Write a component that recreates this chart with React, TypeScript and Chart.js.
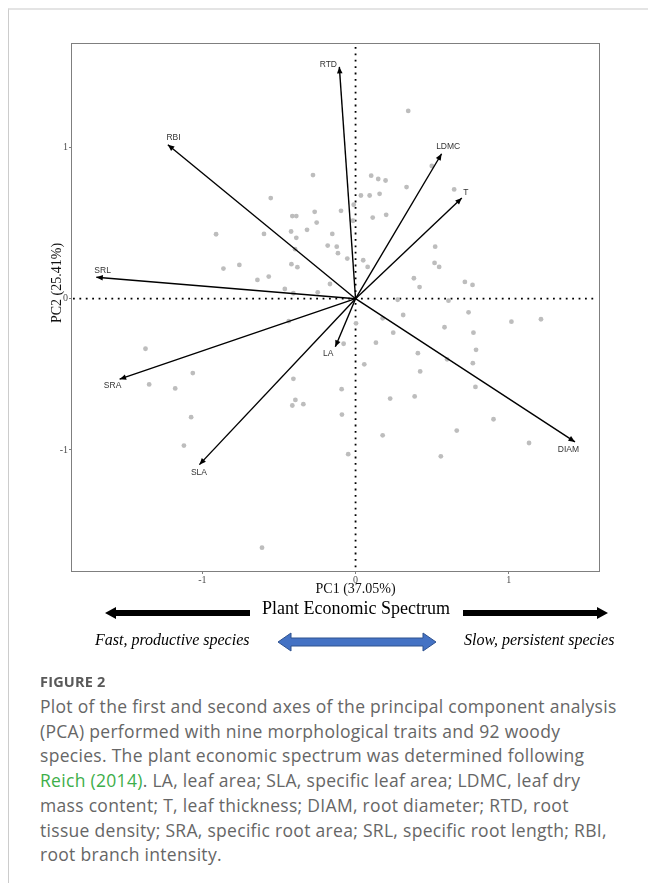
import React, { useEffect, useRef } from "react";
import { Chart, registerables } from "chart.js";

Chart.register(...registerables);

// Species scores (PC1, PC2)
const speciesPC1 = [
  -0.278, -0.554, -0.413, -0.387, -0.267, -0.095, -0.012, -0.017, -0.254, -0.317,
  -0.421, -0.152, -0.387, -0.598, -0.911, -0.182, -0.123, -0.115, -0.395, -0.054,
  -0.863, -0.759, -0.419, -0.38, -0.641, -0.567, -0.167, -0.462, -0.406, -0.247,
  0.344, 0.498, 0.102, 0.148, 0.196, 0.333, 0.644, 0.035, 0.092, 0.157,
  0.112, 0.2, 0.52, 0.05, 0.079, 0.516, 0.546, 0.381, 0.418, 0.714,
  0.764, 0.275, 0.607, 0.738, 0.311, 0.177, 1.018, 1.211, 0.003, 0.581,
  0.246, 0.77, -0.078, 0.133, 0.787, 0.407, 0.598, 0.766, 0.057, 0.422,
  0.783, -0.091, 0.226, 0.386, -0.089, 0.901, 0.661, 0.177, 1.133, -0.048,
  0.557, -0.436, -1.372, -1.063, -1.348, -1.178, -0.406, -0.393, -0.341, -0.413,
  -1.074, -1.121, -0.611,
];
const speciesPC2 = [
  0.817, 0.665, 0.546, 0.546, 0.574, 0.581, 0.621, 0.515, 0.503, 0.455,
  0.444, 0.428, 0.402, 0.428, 0.426, 0.351, 0.344, 0.301, 0.327, 0.265,
  0.199, 0.223, 0.228, 0.208, 0.124, 0.146, 0.097, 0.064, 0.036, 0.042,
  1.241, 0.877, 0.813, 0.791, 0.781, 0.738, 0.722, 0.682, 0.682, 0.693,
  0.536, 0.554, 0.344, 0.254, 0.21, 0.236, 0.21, 0.135, 0.077, 0.111,
  0.091, -0.007, -0.013, -0.09, -0.108, -0.13, -0.152, -0.136, -0.163, -0.189,
  -0.225, -0.225, -0.298, -0.291, -0.338, -0.36, -0.401, -0.426, -0.434, -0.481,
  -0.583, -0.598, -0.66, -0.646, -0.766, -0.797, -0.872, -0.903, -0.954, -1.028,
  -1.042, -0.148, -0.331, -0.492, -0.567, -0.593, -0.53, -0.669, -0.697, -0.706,
  -0.783, -0.971, -1.646,
];

// Trait loadings (arrow tips) and label positions
const traitNames = ["RTD", "RBI", "SRL", "LDMC", "T", "SRA", "SLA", "LA", "DIAM"];
const traitPC1 = [-0.106, -1.226, -1.693, 0.562, 0.694, -1.541, -1.02, -0.132, 1.433];
const traitPC2 = [1.532, 1.018, 0.142, 0.958, 0.665, -0.532, -1.097, -0.318, -0.947];
const labelPC1 = [-0.178, -1.189, -1.652, 0.605, 0.72, -1.587, -1.023, -0.178, 1.39];
const labelPC2 = [1.548, 1.062, 0.185, 1.003, 0.698, -0.578, -1.148, -0.366, -0.995];

const xTicks = [-1, 0, 1];
const yTicks = [-1, 0, 1];
const xTitle = "PC1 (37.05%)";
const yTitle = "PC2 (25.41%)";

const captionLines = [
  "Plot of the first and second axes of the principal component analysis",
  "(PCA) performed with nine morphological traits and 92 woody",
  "species. The plant economic spectrum was determined following",
  "__REICH__. LA, leaf area; SLA, specific leaf area; LDMC, leaf dry",
  "mass content; T, leaf thickness; DIAM, root diameter; RTD, root",
  "tissue density; SRA, specific root area; SRL, specific root length; RBI,",
  "root branch intensity.",
];

const SERIF = "'Liberation Serif', 'Times New Roman', serif";
const SANS = "'Liberation Sans', Arial, sans-serif";

const pcaPlugin = {
  id: "pcaPlugin",
  beforeDatasetsDraw(chart: any) {
    const { ctx, chartArea: a, scales } = chart;
    const x0 = scales.x.getPixelForValue(0);
    const y0 = scales.y.getPixelForValue(0);
    ctx.save();
    ctx.strokeStyle = "#000";
    ctx.lineWidth = 1.8;
    ctx.setLineDash([1.8, 4.6]);
    ctx.beginPath();
    ctx.moveTo(x0, a.top + 4);
    ctx.lineTo(x0, a.bottom);
    ctx.stroke();
    ctx.beginPath();
    ctx.moveTo(a.left + 1, y0);
    ctx.lineTo(a.right - 2, y0);
    ctx.stroke();
    ctx.restore();
  },
  afterDatasetsDraw(chart: any) {
    const { ctx, scales } = chart;
    const x0 = scales.x.getPixelForValue(0);
    const y0 = scales.y.getPixelForValue(0);
    ctx.save();
    ctx.fillStyle = "#000";
    for (let i = 0; i < traitNames.length; i++) {
      const tx = scales.x.getPixelForValue(traitPC1[i]);
      const ty = scales.y.getPixelForValue(traitPC2[i]);
      const ang = Math.atan2(ty - y0, tx - x0);
      const len = 6.5;
      const hw = 2.8;
      const bx = tx - len * Math.cos(ang);
      const by = ty - len * Math.sin(ang);
      ctx.beginPath();
      ctx.moveTo(tx, ty);
      ctx.lineTo(bx + hw * Math.sin(ang), by - hw * Math.cos(ang));
      ctx.lineTo(bx - hw * Math.sin(ang), by + hw * Math.cos(ang));
      ctx.closePath();
      ctx.fill();
    }
    ctx.fillStyle = "#333";
    ctx.font = `8.5px ${SANS}`;
    ctx.textAlign = "center";
    ctx.textBaseline = "middle";
    for (let i = 0; i < traitNames.length; i++) {
      ctx.fillText(
        traitNames[i],
        scales.x.getPixelForValue(labelPC1[i]),
        scales.y.getPixelForValue(labelPC2[i])
      );
    }
    ctx.restore();
  },
  afterDraw(chart: any) {
    const { ctx, chartArea: a, scales } = chart;
    ctx.save();
    ctx.strokeStyle = "#7f7f7f";
    ctx.lineWidth = 1;
    const l = Math.round(a.left) - 0.5;
    const t = Math.round(a.top) + 0.5;
    const r = Math.round(a.right) + 0.5;
    const b = Math.round(a.bottom) + 0.5;
    ctx.strokeRect(l, t, r - l, b - t);
    ctx.fillStyle = "#111";
    ctx.font = `14px ${SERIF}`;
    ctx.textAlign = "center";
    ctx.textBaseline = "middle";
    ctx.fillText(xTitle, scales.x.getPixelForValue(0), 589);
    ctx.translate(57, 283);
    ctx.rotate(-Math.PI / 2);
    ctx.fillText(yTitle, 0, 0);
    ctx.restore();
  },
};

function PcaChart() {
  const ref = useRef<HTMLCanvasElement>(null);
  useEffect(() => {
    if (!ref.current) return;
    const points = speciesPC1.map((v, i) => ({ x: v, y: speciesPC2[i] }));
    const arrowSets = traitNames.map((n, i) => ({
      label: n,
      type: "line" as const,
      data: [
        { x: 0, y: 0 },
        { x: traitPC1[i], y: traitPC2[i] },
      ],
      borderColor: "#000",
      borderWidth: 1.4,
      pointRadius: 0,
      showLine: true,
      fill: false,
      order: 1,
    }));
    const tickFont = { family: SERIF, size: 10 };
    const chart = new Chart(ref.current, {
      type: "scatter",
      data: {
        datasets: [
          ...arrowSets,
          {
            label: "species",
            data: points,
            backgroundColor: "#bdbdbd",
            borderWidth: 0,
            pointRadius: 2.4,
            order: 10,
          } as any,
        ],
      },
      plugins: [pcaPlugin],
      options: {
        animation: false,
        responsive: false,
        devicePixelRatio: 1,
        layout: { padding: { left: 56, top: 43, right: 49, bottom: 13 } },
        plugins: { legend: { display: false }, tooltip: { enabled: false } },
        events: [],
        scales: {
          x: {
            type: "linear",
            min: -1.852,
            max: 1.59,
            afterBuildTicks: (s: any) => {
              s.ticks = xTicks.map((v) => ({ value: v }));
            },
            afterFit: (s: any) => {
              s.height = 16;
            },
            grid: { drawOnChartArea: false, drawTicks: true, tickLength: 3, color: "#7f7f7f" },
            border: { display: false },
            ticks: { font: tickFont, color: "#4d4d4d", padding: 0, maxRotation: 0 },
          },
          y: {
            type: "linear",
            min: -1.8,
            max: 1.69,
            afterBuildTicks: (s: any) => {
              s.ticks = yTicks.map((v) => ({ value: v }));
            },
            afterFit: (s: any) => {
              s.width = 16;
            },
            grid: { drawOnChartArea: false, drawTicks: true, tickLength: 3, color: "#7f7f7f" },
            border: { display: false },
            ticks: { font: tickFont, color: "#4d4d4d", padding: 1 },
          },
        },
      } as any,
    });
    return () => chart.destroy();
  }, []);
  return (
    <canvas
      ref={ref}
      width={648}
      height={600}
      style={{ position: "absolute", left: 0, top: 0, width: 648, height: 600 }}
    />
  );
}

export default function App() {
  const abs = (o: React.CSSProperties): React.CSSProperties => ({ position: "absolute", ...o });
  return (
    <div style={abs({ left: 0, top: 0, width: 648, height: 883, background: "#fff", overflow: "hidden" })}>
      <div
        style={abs({
          left: 8,
          top: 8,
          right: 0,
          bottom: 0,
          borderTop: "2px solid #e4e4e4",
          borderLeft: "1px solid #cccccc",
        })}
      />
      <PcaChart />
      <svg width={648} height={80} style={{ position: "absolute", left: 0, top: 595 }}>
        <g transform="translate(0,-595)">
          <polygon points="105,613 116,607 116,610 250,610 250,616 116,616 116,619" fill="#000" />
          <polygon points="608,613 597,607 597,610 463,610 463,616 597,616 597,619" fill="#000" />
          <polygon
            points="278,642 291,633 291,638 423,638 423,633 436,642 423,651 423,646 291,646 291,651"
            fill="#4472C4"
            stroke="#2F528F"
            strokeWidth={1}
          />
        </g>
      </svg>
      <div
        style={abs({
          left: 206,
          top: 598,
          width: 300,
          textAlign: "center",
          fontFamily: SERIF,
          fontSize: 18,
          lineHeight: "20px",
          color: "#000",
          whiteSpace: "nowrap",
        })}
      >
        Plant Economic Spectrum
      </div>
      <div
        style={abs({
          left: 95,
          top: 630,
          fontFamily: SERIF,
          fontStyle: "italic",
          fontSize: 16,
          lineHeight: "20px",
          color: "#000",
          whiteSpace: "nowrap",
        })}
      >
        Fast, productive species
      </div>
      <div
        style={abs({
          left: 464,
          top: 630,
          fontFamily: SERIF,
          fontStyle: "italic",
          fontSize: 16,
          lineHeight: "20px",
          color: "#000",
          whiteSpace: "nowrap",
        })}
      >
        Slow, persistent species
      </div>
      <div
        style={abs({
          left: 40,
          top: 674,
          fontFamily: "'Open Sans', Lato, sans-serif",
          fontWeight: 700,
          fontSize: 14.5,
          letterSpacing: 0.2,
          lineHeight: "16px",
          color: "#595959",
          whiteSpace: "nowrap",
        })}
      >
        FIGURE 2
      </div>
      <div
        style={abs({
          left: 40,
          top: 694,
          fontFamily: "'Open Sans', sans-serif",
          fontSize: 17.5,
          letterSpacing: 0.3,
          lineHeight: "24.7px",
          color: "#666",
          whiteSpace: "nowrap",
        })}
      >
        {captionLines.map((line, i) => (
          <div key={i}>
            {line.startsWith("__REICH__") ? (
              <>
                <span style={{ color: "#3dae49" }}>Reich (2014)</span>
                {line.replace("__REICH__", "")}
              </>
            ) : (
              line
            )}
          </div>
        ))}
      </div>
    </div>
  );
}
